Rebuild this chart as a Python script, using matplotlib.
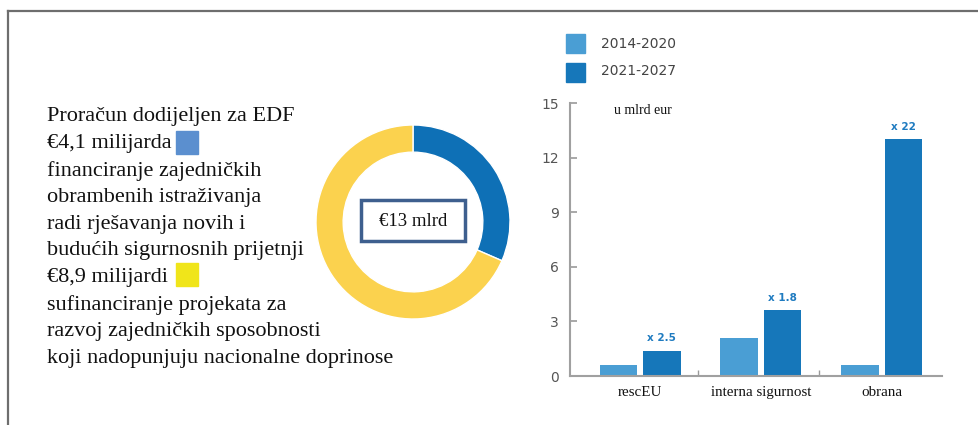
import numpy as np
import matplotlib.pyplot as plt
from matplotlib.patches import Rectangle
from matplotlib.lines import Line2D

# donut data
edf_labels = ["istraživanja", "sposobnosti"]
edf_values = [4.1, 8.9]
edf_colors = ["#0E70B6", "#FBD24E"]

# bar data
categories = ["rescEU", "interna sigurnost", "obrana"]
periods = ["2014-2020", "2021-2027"]
old_vals = [0.6, 2.1, 0.6]
new_vals = [1.4, 3.6, 13.0]
multipliers = ["x 2.5", "x 1.8", "x 22"]
yticks = [0, 3, 6, 9, 12, 15]

text_lines = [
    "Proračun dodijeljen za EDF",
    "€4,1 milijarda",
    "financiranje zajedničkih",
    "obrambenih istraživanja",
    "radi rješavanja novih i",
    "budućih sigurnosnih prijetnji",
    "€8,9 milijardi",
    "sufinanciranje projekata za",
    "razvoj zajedničkih sposobnosti",
    "koji nadopunjuju nacionalne doprinose",
]

W, H = 979, 425
fig = plt.figure(figsize=(W / 100, H / 100), dpi=100)

def fx(px):
    return px / W

def fy(py):
    return 1 - py / H

serif = "Liberation Serif"

# frame lines (top and left)
fig.add_artist(Line2D([fx(8.5), 1], [fy(10.5), fy(10.5)], color="#6e6e6e", lw=1.6))
fig.add_artist(Line2D([fx(8.5), fx(8.5)], [fy(10.5), 0], color="#6e6e6e", lw=1.6))

# left text block
y0 = 117
step = 26.8
for i, line in enumerate(text_lines):
    fig.text(fx(47), fy(y0 + i * step), line, family=serif, fontsize=16,
             va="center", ha="left", color="#111111")
# colour squares next to amounts
fig.add_artist(Rectangle((fx(176), fy(154)), fx(22), 23 / H, color="#5B8FCF"))
fig.add_artist(Rectangle((fx(176), fy(286)), fx(22), 23 / H, color="#F0E51A"))

# donut
ax_p = fig.add_axes([fx(316), fy(319), fx(194), 194 / H])
ax_p.pie(edf_values, colors=edf_colors, startangle=90, counterclock=False,
         wedgeprops=dict(width=0.28, edgecolor="white", linewidth=1))
ax_p.set_xlim(-1, 1)
ax_p.set_ylim(-1, 1)
ax_p.set_aspect("equal")
ax_p.axis("off")
fig.add_artist(Rectangle((fx(361), fy(241)), fx(104), 41 / H, facecolor="white",
                         edgecolor="#3E5F8E", lw=2.5))
fig.text(fx(413), fy(222), "€13 mlrd", family=serif, fontsize=13.5,
         ha="center", va="center", color="#111111")

# bar chart
ax = fig.add_axes([fx(570), fy(376), fx(372), 273 / H])
x = np.arange(len(categories))
bw = 0.31
off = 0.18
light = "#4A9ED4"
dark = "#1677BA"
ax.bar(x - off, old_vals, bw, color=light, label=periods[0])
ax.bar(x + off, new_vals, bw, color=dark, label=periods[1])
for xi, v, m in zip(x, new_vals, multipliers):
    ax.text(xi + off, v + 0.4, m, ha="center", va="bottom", fontsize=7.5,
            fontweight="bold", color="#1F7BC0")
ax.set_xlim(-0.58, 2.5)
ax.set_ylim(0, 15)
ax.set_yticks(yticks)
ax.set_yticklabels([str(t) for t in yticks])
ax.tick_params(axis="y", direction="in", length=5, width=1.2, color="#9a9a9a",
               labelcolor="#555555", labelsize=10, pad=8)
ax.set_xticks([0.483, 1.483])
ax.set_xticklabels(["", ""])
ax.tick_params(axis="x", direction="in", length=4, width=1, color="#9a9a9a")
for s in ["top", "right"]:
    ax.spines[s].set_visible(False)
for s in ["left", "bottom"]:
    ax.spines[s].set_color("#a0a0a0")
    ax.spines[s].set_linewidth(1.5)
ax.patch.set_alpha(0)
for xi, c in zip(x, categories):
    ax.text(xi, -0.55, c, transform=ax.transData, ha="center", va="top",
            family=serif, fontsize=10.8, color="#111111")
fig.text(fx(614), fy(111), "u mlrd eur", family=serif, fontsize=10,
         ha="left", va="center", color="#111111")

# legend
fig.add_artist(Rectangle((fx(566), fy(53)), fx(19), 19 / H, color=light))
fig.add_artist(Rectangle((fx(566), fy(82)), fx(19), 19 / H, color=dark))
fig.text(fx(601), fy(44), periods[0], fontsize=10, color="#444444", va="center")
fig.text(fx(601), fy(71), periods[1], fontsize=10, color="#444444", va="center")

fig.savefig("out.png", dpi=100)
